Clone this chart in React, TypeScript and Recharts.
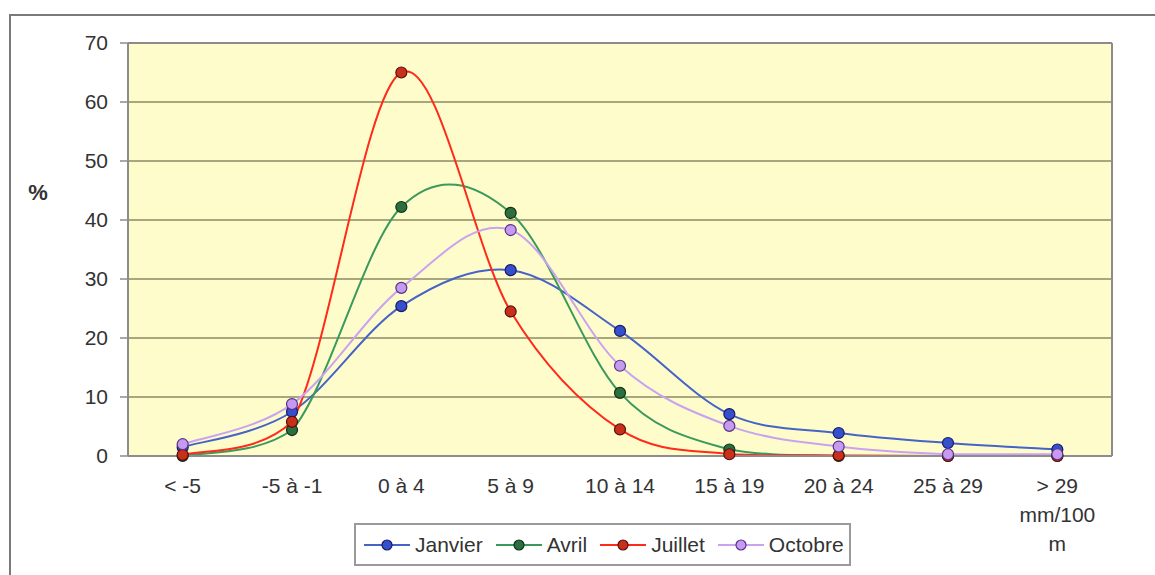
import React from "react";
import {
  LineChart,
  Line,
  XAxis,
  YAxis,
  CartesianGrid,
  Legend,
  ReferenceLine,
} from "recharts";

// Pente des routes (classes en mm/100 m) et part de chaque classe (%), par mois.
const categories = ["< -5", "-5 à -1", "0 à 4", "5 à 9", "10 à 14", "15 à 19", "20 à 24", "25 à 29", "> 29 mm/100 m"];
const janvier = [1.5, 7.5, 25.4, 31.5, 21.2, 7.1, 3.9, 2.2, 1.1];
const avril = [0, 4.4, 42.2, 41.2, 10.7, 1.1, 0, 0, 0];
const juillet = [0.2, 5.8, 65, 24.5, 4.5, 0.3, 0.1, 0, 0];
const octobre = [2.0, 8.8, 28.5, 38.3, 15.3, 5.1, 1.6, 0.3, 0.3];
const yTicks = [0, 10, 20, 30, 40, 50, 60, 70];

const series = [
  { key: "janvier", name: "Janvier", line: "#4563c8", fill: "#3550cc", edge: "#1a1a66" },
  { key: "avril", name: "Avril", line: "#3a9a5c", fill: "#2c6e40", edge: "#113311" },
  { key: "juillet", name: "Juillet", line: "#ff2a1a", fill: "#c8301a", edge: "#551010" },
  { key: "octobre", name: "Octobre", line: "#caa3f0", fill: "#c79af2", edge: "#553388" },
];

const data = categories.map((c, i) => ({
  idx: i,
  cat: c,
  janvier: janvier[i],
  avril: avril[i],
  juillet: juillet[i],
  octobre: octobre[i],
}));

const edgeTicks = categories.map((_, i) => i - 0.5).concat(categories.length - 0.5);
const catTicks = categories.map((_, i) => i);

const FONT = "'Liberation Sans', Arial, sans-serif";
const FS = 21;

// Excel-style smoothed line (Catmull-Rom as cubic Bézier), control points kept
// above the series' lowest point so flat runs at 0 don't dip under the axis.
function smoothCurve(context: any) {
  let pts: [number, number][] = [];
  return {
    areaStart() {},
    areaEnd() {},
    lineStart() {
      pts = [];
    },
    point(x: number, y: number) {
      pts.push([+x, +y]);
    },
    lineEnd() {
      if (!pts.length) return;
      const floor = Math.max(...pts.map((p) => p[1]));
      const cy = (v: number) => Math.min(v, floor);
      context.moveTo(pts[0][0], pts[0][1]);
      for (let i = 0; i < pts.length - 1; i++) {
        const p0 = pts[i - 1] || pts[i];
        const p1 = pts[i];
        const p2 = pts[i + 1];
        const p3 = pts[i + 2] || p2;
        context.bezierCurveTo(
          p1[0] + (p2[0] - p0[0]) / 6,
          cy(p1[1] + (p2[1] - p0[1]) / 6),
          p2[0] - (p3[0] - p1[0]) / 6,
          cy(p2[1] - (p3[1] - p1[1]) / 6),
          p2[0],
          p2[1]
        );
      }
    },
  };
}

// greedy word wrap, measured with a canvas
let ctx2d: CanvasRenderingContext2D | null = null;
function wrap(label: string, maxWidth: number): string[] {
  if (!ctx2d) ctx2d = document.createElement("canvas").getContext("2d");
  if (ctx2d) ctx2d.font = `${FS}px ${FONT}`;
  const measure = (s: string) => (ctx2d ? ctx2d.measureText(s).width : s.length * FS * 0.55);
  const words = label.split(" ");
  const lines: string[] = [];
  let cur = "";
  for (const w of words) {
    const next = cur ? cur + " " + w : w;
    if (cur && measure(next) > maxWidth) {
      lines.push(cur);
      cur = w;
    } else cur = next;
  }
  if (cur) lines.push(cur);
  return lines;
}

function CatTick(props: any) {
  const { x, y, payload } = props;
  const lines = wrap(categories[payload.value], 80);
  return (
    <text x={x} y={y} textAnchor="middle" fontSize={FS} fontFamily={FONT} fill="#333">
      {lines.map((l, i) => (
        <tspan key={i} x={x} dy={i === 0 ? 15 : 29}>
          {l}
        </tspan>
      ))}
    </text>
  );
}

function LegendBox() {
  return (
    <div
      style={{
        display: "flex",
        alignItems: "center",
        border: "2px solid #9a9a9a",
        background: "#fff",
        height: 39,
        padding: "0 5px 0 8px",
        fontFamily: FONT,
        fontSize: FS,
        color: "#333",
        gap: 13,
        whiteSpace: "nowrap",
      }}
    >
      {series.map((s) => (
        <div key={s.key} style={{ display: "flex", alignItems: "center", gap: 5 }}>
          <svg width={46} height={14}>
            <line x1={0} y1={7} x2={46} y2={7} stroke={s.line} strokeWidth={2} />
            <circle cx={23} cy={7} r={5} fill={s.fill} stroke={s.edge} strokeWidth={1.2} />
          </svg>
          <span>{s.name}</span>
        </div>
      ))}
    </div>
  );
}

export default function App() {
  return (
    <div
      style={{
        position: "absolute",
        left: 0,
        top: 0,
        width: 1155,
        height: 575,
        overflow: "hidden",
        background: "#fff",
      }}
    >
      <div
        style={{
          position: "absolute",
          left: 9,
          top: 14,
          width: 1300,
          height: 700,
          borderTop: "2px solid #7a7a7a",
          borderLeft: "2px solid #7a7a7a",
        }}
      />
      <div style={{ position: "absolute", left: 0, top: 0 }}>
        <LineChart width={1155} height={575} data={data} margin={{ top: 43, right: 43, left: 0, bottom: 0 }}>
          <CartesianGrid horizontal vertical={false} stroke="#8a8a62" strokeWidth={1.5} fill="#fffccc" yAxisId="y" xAxisId="cat" />
          <XAxis
            xAxisId="edges"
            type="number"
            domain={[-0.5, 8.5]}
            ticks={edgeTicks}
            height={0}
            axisLine={false}
            tickLine={{ stroke: "#8c8c8c", strokeWidth: 1.5 }}
            tickSize={7}
            tick={() => <g />}
            interval={0}
          />
          <XAxis
            xAxisId="cat"
            dataKey="idx"
            type="number"
            domain={[-0.5, 8.5]}
            ticks={catTicks}
            height={119}
            axisLine={{ stroke: "#8c8c8c", strokeWidth: 2 }}
            tickLine={false}
            tickSize={0}
            tickMargin={22}
            tick={<CatTick />}
            interval={0}
          />
          <YAxis
            yAxisId="y"
            width={128}
            domain={[0, 70]}
            ticks={yTicks}
            interval={0}
            axisLine={{ stroke: "#8c8c8c", strokeWidth: 2 }}
            tickLine={{ stroke: "#8c8c8c", strokeWidth: 1.5 }}
            tickSize={8}
            tickMargin={12}
            tick={{ fontSize: FS, fontFamily: FONT, fill: "#333" }}
            label={{
              content: () => (
                <text x={38} y={200} textAnchor="middle" fontSize={22} fontWeight="bold" fontFamily={FONT} fill="#333">
                  %
                </text>
              ),
            }}
          />
          <ReferenceLine xAxisId="cat" yAxisId="y" x={8.5} stroke="#8c8c8c" strokeWidth={2} />
          <ReferenceLine xAxisId="cat" yAxisId="y" y={70} stroke="#8c8c8c" strokeWidth={2} />
          <Legend
            layout="horizontal"
            verticalAlign="middle"
            content={() => <LegendBox />}
            wrapperStyle={{ position: "absolute", left: 354, top: 523, width: "auto", height: "auto" }}
          />
          {series.map((s) => (
            <Line
              key={s.key}
              xAxisId="cat"
              yAxisId="y"
              dataKey={s.key}
              name={s.name}
              type={smoothCurve as any}
              stroke={s.line}
              strokeWidth={2}
              dot={{ r: 5.5, fill: s.fill, stroke: s.edge, strokeWidth: 1.2 }}
              activeDot={false}
              isAnimationActive={false}
            />
          ))}
        </LineChart>
      </div>
    </div>
  );
}
